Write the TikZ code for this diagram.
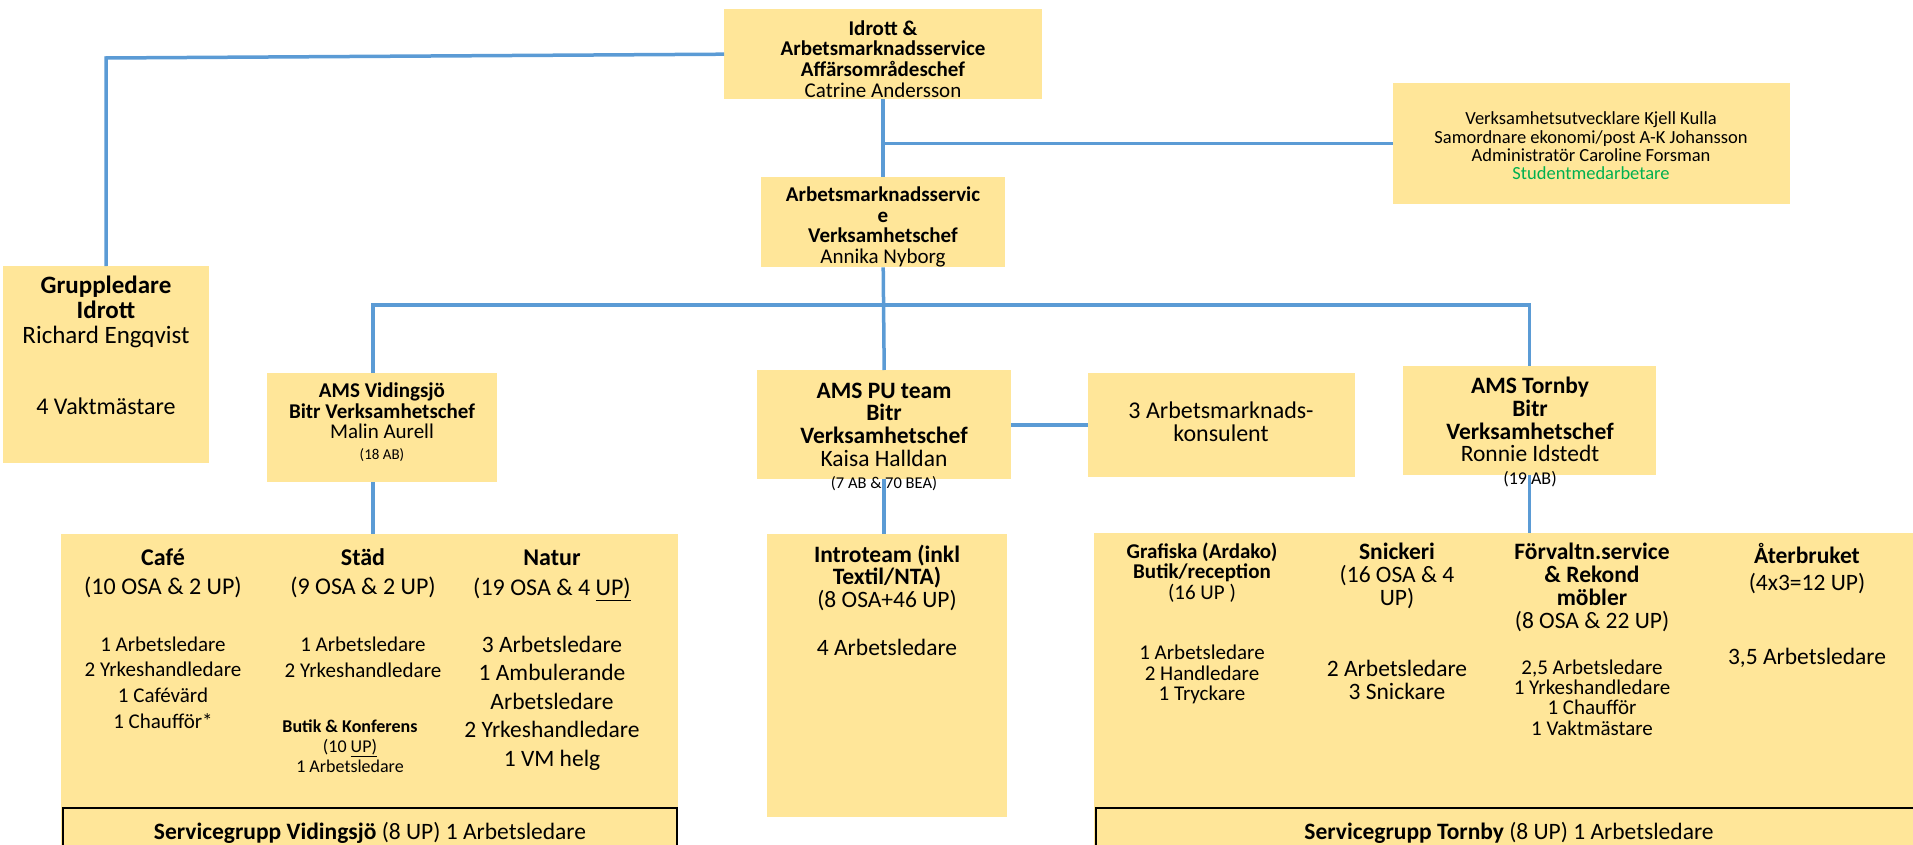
\documentclass[tikz,border=0pt]{standalone}
\usepackage{fontspec}
\setmainfont{Carlito}
\definecolor{BoxGold}{RGB}{255, 230, 153}
\definecolor{LinkBlue}{RGB}{91, 155, 213}
\definecolor{StudGreen}{RGB}{0, 176, 80}
\usetikzlibrary{positioning}
\newcommand{\fsz}[2]{\fontsize{#1pt}{#2pt}\selectfont}

\begin{document}
\begin{tikzpicture}[x=1pt, y=-1pt,
    box/.style={fill=BoxGold, inner sep=0pt, anchor=north west},
    svc/.style={fill=BoxGold, draw=black, line width=2pt, inner sep=0pt, anchor=north west},
    link/.style={draw=LinkBlue, line width=3.5pt},
    txt/.style={align=center, inner sep=0pt}]
            \useasboundingbox (0,0) rectangle (1913,845);
            \clip (0,0) rectangle (1913,845);
            % boxes
            \node[box, minimum width=318pt, minimum height=90pt] (top) at (724,9) {};
            \node[box, minimum width=397pt, minimum height=121pt] (stab) at (1393,83) {};
            \node[box, minimum width=244pt, minimum height=90pt] (vc) at (761,177) {};
            \node[box, minimum width=206pt, minimum height=197pt] (grupp) at (3,266) {};
            \node[box, minimum width=230pt, minimum height=109pt] (vidingsjo) at (267,373) {};
            \node[box, minimum width=254pt, minimum height=109pt] (pu) at (757,370) {};
            \node[box, minimum width=267pt, minimum height=104pt] (konsulent) at (1088,373) {};
            \node[box, minimum width=253pt, minimum height=109pt] (tornby) at (1403,366) {};
            \node[box, minimum width=617pt, minimum height=320pt] (vidgrp) at (61,534) {};
            \node[box, minimum width=240pt, minimum height=283pt] (intro) at (767,534) {};
            \node[box, minimum width=830pt, minimum height=320pt] (torngrp) at (1094,533) {};
            \node[svc, minimum width=614pt, minimum height=60pt] (svcV) at (62,807) {};
            \node[svc, minimum width=830pt, minimum height=60pt] (svcT) at (1095,807) {};
            % links
            \coordinate (bus) at (883,305);
            \coordinate (gcorner) at (106,58);
            \draw[link] (grupp.north) -- (gcorner) -- (top.west);
            \draw[link] (top.south) -- (vc.north);
            \draw[link] (top.south |- stab.west) -- (stab.west);
            \draw[link] ([xshift=-9pt]vidingsjo.north) |- (bus) -| (tornby.north);
            \draw[link] (vc.south) -- (pu.north);
            \draw[link] ([xshift=-9pt]vidingsjo.south) -- ([xshift=-9pt]vidingsjo.south |- vidgrp.north);
            \draw[link] (pu.south) -- (pu.south |- intro.north);
            \draw[link] (tornby.south) -- (tornby.south |- torngrp.north);
            \draw[link] (pu.east |- konsulent.west) -- (konsulent.west);
            % texts
            \node[txt, font=\fsz{21}{20.7}] (t-top) at (883,59) {\textbf{Idrott \&}\\\textbf{Arbetsmarknadsservice}\\\textbf{Affärsområdeschef}\\Catrine Andersson};
            \node[txt, font=\fsz{21}{20.8}] (t-vc) at (883,227) {\textbf{Arbetsmarknadsservic}\\\textbf{e}\\\textbf{Verksamhetschef}\\Annika Nyborg};
            \node[txt, font=\fsz{18.5}{18.3}] (t-stab) at (1591,146) {Verksamhetsutvecklare Kjell Kulla\\Samordnare ekonomi/post A-K Johansson\\Administratör Caroline Forsman\\\textcolor{StudGreen}{Studentmedarbetare}};
            \node[txt, font=\fsz{25}{25}] (t-grupp) at (106,312) {\textbf{Gruppledare}\\\textbf{Idrott}\\Richard Engqvist};
            \node[txt, font=\fsz{24}{25}] (t-vakt) at (106,406) {4 Vaktmästare};
            \node[txt, font=\fsz{21}{20.5}] (t-vid) at (382,422) {\textbf{AMS Vidingsjö}\\\textbf{Bitr Verksamhetschef}\\Malin Aurell\\{\fsz{15}{19}(18 AB)}};
            \node[txt, font=\fsz{23.5}{22.7}] (t-pu) at (884,437) {\textbf{AMS PU team}\\\textbf{Bitr}\\\textbf{Verksamhetschef}\\Kaisa Halldan\\{\fsz{16.5}{20}(7 AB \& 70 BEA)}};
            \node[txt, font=\fsz{24}{23}] (t-kons) at (1221,421.5) {3 Arbetsmarknads-\\konsulent};
            \node[txt, font=\fsz{23.5}{22.7}] (t-torn) at (1530,432) {\textbf{AMS Tornby}\\\textbf{Bitr}\\\textbf{Verksamhetschef}\\Ronnie Idstedt\\{\fsz{18}{20}(19 AB)}};
            % Vidingsjo group
            \node[txt, font=\fsz{24}{29}] (t-cafe) at (163,573.5) {\textbf{Café}\\(10 OSA \& 2 UP)};
            \node[txt, font=\fsz{21}{25.7}] (t-cafe-staff) at (163,682.5) {1 Arbetsledare\\2 Yrkeshandledare\\1 Cafévärd\\1 Chaufför*};
            \node[txt, font=\fsz{24}{29}] (t-stad) at (363,573.5) {\textbf{Städ}\\(9 OSA \& 2 UP)};
            \node[txt, font=\fsz{21}{25.7}] (t-stad-staff) at (363,657) {1 Arbetsledare\\2 Yrkeshandledare};
            \node[txt, font=\fsz{18}{20}] (t-butik) at (350,746) {\textbf{Butik \& Konferens}\\(10 \underline{UP)}\\1 Arbetsledare};
            \node[txt, font=\fsz{24}{30}] (t-natur) at (552,575) {\textbf{Natur}\\(19 OSA \& 4 \underline{UP)}};
            \node[txt, font=\fsz{23.5}{28.5}] (t-natur-staff) at (552,703) {3 Arbetsledare\\1 Ambulerande\\Arbetsledare\\2 Yrkeshandledare\\1 VM helg};
            \node[txt, font=\fsz{23.5}{23.5}] (t-svcV) at (370,833) {\textbf{Servicegrupp Vidingsjö} (8 UP) 1 Arbetsledare};
            % Introteam
            \node[txt, font=\fsz{23.5}{22.5}] (t-intro) at (887,577.5) {\textbf{Introteam (inkl}\\\textbf{Textil/NTA)}\\(8 OSA+46 UP)};
            \node[txt, font=\fsz{23.5}{22.5}] (t-intro-staff) at (887,647) {4 Arbetsledare};
            % Tornby group
            \node[txt, font=\fsz{21}{20.5}] (t-graf) at (1202,572.5) {\textbf{Grafiska (Ardako)}\\\textbf{Butik/reception}\\(16 UP )};
            \node[txt, font=\fsz{21}{20.5}] (t-graf-staff) at (1202,674.5) {1 Arbetsledare\\2 Handledare\\1 Tryckare};
            \node[txt, font=\fsz{23.5}{23}] (t-snick) at (1397,576) {\textbf{Snickeri}\\(16 OSA \& 4\\UP)};
            \node[txt, font=\fsz{23.5}{23}] (t-snick-staff) at (1397,679.5) {2 Arbetsledare\\3 Snickare};
            \node[txt, font=\fsz{23.5}{23}] (t-forv) at (1592,587.5) {\textbf{Förvaltn.service}\\\textbf{\& Rekond}\\\textbf{möbler}\\(8 OSA \& 22 UP)};
            \node[txt, font=\fsz{21}{20.3}] (t-forv-staff) at (1592,697.5) {2,5 Arbetsledare\\1 Yrkeshandledare\\1 Chaufför\\1 Vaktmästare};
            \node[txt, font=\fsz{23.5}{27}] (t-ater) at (1807,568.5) {\textbf{Återbruket}\\(4x3=12 UP)};
            \node[txt, font=\fsz{23.5}{23}] (t-ater-staff) at (1807,658) {3,5 Arbetsledare};
            \node[txt, font=\fsz{23.5}{23.5}] (t-svcT) at (1509,833) {\textbf{Servicegrupp Tornby} (8 UP) 1 Arbetsledare};
        \end{tikzpicture}
\end{document}
